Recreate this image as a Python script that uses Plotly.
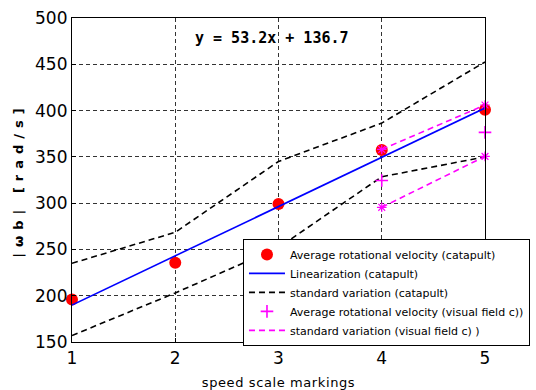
import plotly.graph_objects as go

x = [1, 2, 3, 4, 5]
avg_catapult = [196, 235.5, 299, 357.5, 401]
linear_fit = [189.9, 243.1, 296.3, 349.5, 402.7]
std_upper_catapult = [235, 268.5, 345, 386.5, 452.5]
std_lower_catapult = [157, 203, 252, 328.5, 350]

x_visual = [4, 5]
avg_visual = [324.5, 376.5]
std_upper_visual = [358, 406]
std_lower_visual = [295.5, 350.5]

FONT = "DejaVu Sans"
MONO = "DejaVu Sans Mono"

fig = go.Figure()
fig.add_trace(go.Scatter(x=x, y=avg_catapult, mode="markers", cliponaxis=False,
                         marker=dict(color="#ff0000", size=12, symbol="circle"),
                         name="Average rotational velocity (catapult)"))
fig.add_trace(go.Scatter(x=x, y=linear_fit, mode="lines",
                         line=dict(color="#0000ff", width=1.6),
                         name="Linearization (catapult)"))
fig.add_trace(go.Scatter(x=x, y=std_upper_catapult, mode="lines",
                         line=dict(color="black", width=1.6, dash="6px,4px"),
                         name="standard variation (catapult)", legendgroup="sc"))
fig.add_trace(go.Scatter(x=x, y=std_lower_catapult, mode="lines",
                         line=dict(color="black", width=1.6, dash="6px,4px"),
                         name="standard variation (catapult)", legendgroup="sc",
                         showlegend=False))
fig.add_trace(go.Scatter(x=x_visual, y=avg_visual, mode="markers", cliponaxis=False,
                         marker=dict(color="#ff00ff", size=9, symbol="cross-thin-open",
                                     line=dict(color="#ff00ff", width=1.6)),
                         name="Average rotational velocity (visual field c))"))
fig.add_trace(go.Scatter(x=x_visual, y=std_upper_visual, mode="lines",
                         line=dict(color="#ff00ff", width=1.6, dash="6px,4px"),
                         name="standard variation (visual field c) )", legendgroup="sv"))
fig.add_trace(go.Scatter(x=x_visual, y=std_lower_visual, mode="lines",
                         line=dict(color="#ff00ff", width=1.6, dash="6px,4px"),
                         name="standard variation (visual field c) )", legendgroup="sv",
                         showlegend=False))
fig.add_trace(go.Scatter(x=x_visual + x_visual, y=std_upper_visual + std_lower_visual,
                         mode="markers", showlegend=False, cliponaxis=False,
                         marker=dict(color="#ff00ff", size=8, symbol="asterisk-open",
                                     line=dict(color="#ff00ff", width=1.2))))

fig.add_annotation(x=2.94, y=478, xref="x", yref="y",
                   text="<b>y = 53.2x + 136.7</b>",
                   showarrow=False, xanchor="center", yanchor="middle",
                   font=dict(family=MONO, size=15, color="black"))

fig.update_layout(
    width=536, height=390,
    margin=dict(l=72, r=51, t=18, b=48, autoexpand=False),
    paper_bgcolor="white", plot_bgcolor="white",
    font=dict(family=FONT, color="black"),
    legend=dict(x=0.414, y=-0.012, xanchor="left", yanchor="bottom",
                bgcolor="white", bordercolor="black", borderwidth=1,
                font=dict(family=FONT, size=11, color="black"),
                tracegroupgap=0, itemwidth=36),
)
fig.update_xaxes(range=[1, 5], tickvals=[1, 2, 3, 4, 5],
                 showline=True, mirror=True, linecolor="black", linewidth=1.2,
                 showgrid=True, gridcolor="#333333", griddash="4px,3px", gridwidth=1,
                 ticks="inside", ticklen=4, tickcolor="black",
                 tickfont=dict(family=FONT, size=17),
                 title=dict(text='<span style="letter-spacing:0.6px">speed scale markings</span>',
                            font=dict(family=FONT, size=13), standoff=14),
                 automargin=False, zeroline=False)
fig.update_yaxes(range=[150, 500], tickvals=[150, 200, 250, 300, 350, 400, 450, 500],
                 showline=True, mirror=True, linecolor="black", linewidth=1.2,
                 showgrid=True, gridcolor="#333333", griddash="4px,3px", gridwidth=1,
                 ticks="inside", ticklen=4, tickcolor="black",
                 tickfont=dict(family=FONT, size=17),
                 title=dict(text='<span style="letter-spacing:6px"><b>|ωb| [rad/s]</b></span>',
                            font=dict(family=FONT, size=13), standoff=8),
                 automargin=False, zeroline=False)

fig.write_html("out.html")
